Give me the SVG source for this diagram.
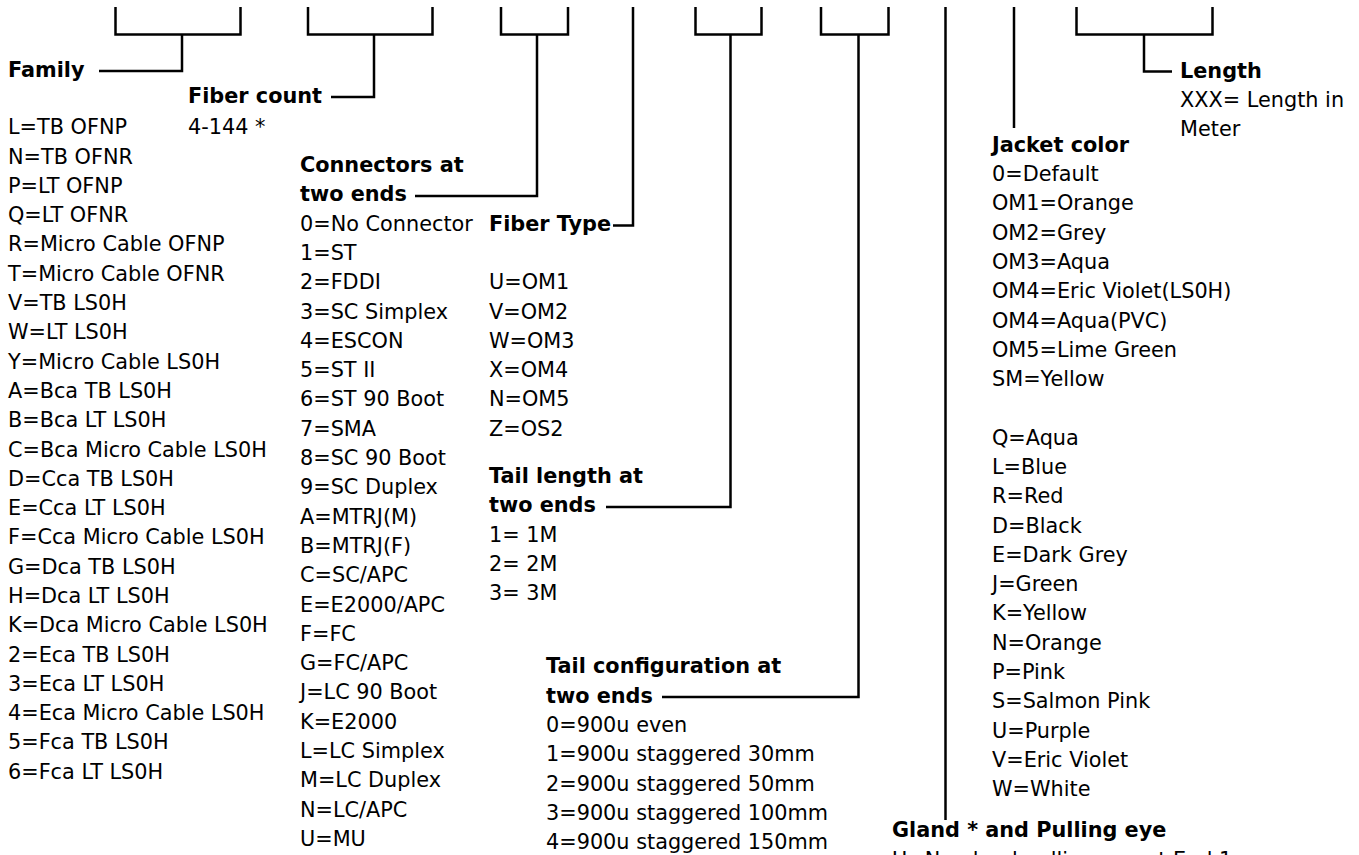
<svg xmlns="http://www.w3.org/2000/svg" width="1359" height="855" viewBox="0 0 1359 855">
<style>
text{font-family:"DejaVu Sans","Liberation Sans",sans-serif;font-size:20.8px;fill:#000}
.b{font-weight:bold}
.ln{stroke:#000;stroke-width:2.5;fill:none;stroke-linecap:butt;stroke-linejoin:miter}
</style>
<rect width="1359" height="855" fill="#fff"/>
<g id="connectors">
<path class="ln" d="M115.5 7V34.5H240.5V7M182 34.5V71H99"/>
<path class="ln" d="M308 7V34.5H432.5V7M374 34.5V97H331"/>
<path class="ln" d="M501 7V34.5H568V7M537 34.5V196H415"/>
<path class="ln" d="M633 7V225.5H613"/>
<path class="ln" d="M695.5 7V34.5H761.5V7M730.5 34.5V507H606"/>
<path class="ln" d="M821 7V34.5H888.5V7M858.5 34.5V697H662"/>
<path class="ln" d="M945.5 7V820"/>
<path class="ln" d="M1014 7V128"/>
<path class="ln" d="M1076.5 7V34.5H1212.5V7M1144 34.5V71.5H1172"/>
</g>
<g id="family">
<text class="b" x="8" y="76.5">Family</text>
<text x="8" y="134.2">
<tspan x="8">L=TB OFNP</tspan>
<tspan x="8" dy="29.3">N=TB OFNR</tspan>
<tspan x="8" dy="29.3">P=LT OFNP</tspan>
<tspan x="8" dy="29.3">Q=LT OFNR</tspan>
<tspan x="8" dy="29.3">R=Micro Cable OFNP</tspan>
<tspan x="8" dy="29.3">T=Micro Cable OFNR</tspan>
<tspan x="8" dy="29.3">V=TB LS0H</tspan>
<tspan x="8" dy="29.3">W=LT LS0H</tspan>
<tspan x="8" dy="29.3">Y=Micro Cable LS0H</tspan>
<tspan x="8" dy="29.3">A=Bca TB LS0H</tspan>
<tspan x="8" dy="29.3">B=Bca LT LS0H</tspan>
<tspan x="8" dy="29.3">C=Bca Micro Cable LS0H</tspan>
<tspan x="8" dy="29.3">D=Cca TB LS0H</tspan>
<tspan x="8" dy="29.3">E=Cca LT LS0H</tspan>
<tspan x="8" dy="29.3">F=Cca Micro Cable LS0H</tspan>
<tspan x="8" dy="29.3">G=Dca TB LS0H</tspan>
<tspan x="8" dy="29.3">H=Dca LT LS0H</tspan>
<tspan x="8" dy="29.3">K=Dca Micro Cable LS0H</tspan>
<tspan x="8" dy="29.3">2=Eca TB LS0H</tspan>
<tspan x="8" dy="29.3">3=Eca LT LS0H</tspan>
<tspan x="8" dy="29.3">4=Eca Micro Cable LS0H</tspan>
<tspan x="8" dy="29.3">5=Fca TB LS0H</tspan>
<tspan x="8" dy="29.3">6=Fca LT LS0H</tspan>
</text>
</g>
<g id="fiber-count">
<text class="b" x="188" y="102.5">Fiber count</text>
<text x="188" y="134.2">4-144 *</text>
</g>
<g id="connectors-at-two-ends">
<text class="b" x="300" y="172"><tspan x="300">Connectors at</tspan><tspan x="300" dy="29.3">two ends</tspan></text>
<text x="300" y="230.6">
<tspan x="300">0=No Connector</tspan>
<tspan x="300" dy="29.3">1=ST</tspan>
<tspan x="300" dy="29.3">2=FDDI</tspan>
<tspan x="300" dy="29.3">3=SC Simplex</tspan>
<tspan x="300" dy="29.3">4=ESCON</tspan>
<tspan x="300" dy="29.3">5=ST II</tspan>
<tspan x="300" dy="29.3">6=ST 90 Boot</tspan>
<tspan x="300" dy="29.3">7=SMA</tspan>
<tspan x="300" dy="29.3">8=SC 90 Boot</tspan>
<tspan x="300" dy="29.3">9=SC Duplex</tspan>
<tspan x="300" dy="29.3">A=MTRJ(M)</tspan>
<tspan x="300" dy="29.3">B=MTRJ(F)</tspan>
<tspan x="300" dy="29.3">C=SC/APC</tspan>
<tspan x="300" dy="29.3">E=E2000/APC</tspan>
<tspan x="300" dy="29.3">F=FC</tspan>
<tspan x="300" dy="29.3">G=FC/APC</tspan>
<tspan x="300" dy="29.3">J=LC 90 Boot</tspan>
<tspan x="300" dy="29.3">K=E2000</tspan>
<tspan x="300" dy="29.3">L=LC Simplex</tspan>
<tspan x="300" dy="29.3">M=LC Duplex</tspan>
<tspan x="300" dy="29.3">N=LC/APC</tspan>
<tspan x="300" dy="29.3">U=MU</tspan>
</text>
</g>
<g id="fiber-type">
<text class="b" x="489" y="230.6">Fiber Type</text>
<text x="489" y="289.2">
<tspan x="489">U=OM1</tspan>
<tspan x="489" dy="29.3">V=OM2</tspan>
<tspan x="489" dy="29.3">W=OM3</tspan>
<tspan x="489" dy="29.3">X=OM4</tspan>
<tspan x="489" dy="29.3">N=OM5</tspan>
<tspan x="489" dy="29.3">Z=OS2</tspan>
</text>
</g>
<g id="tail-length">
<text class="b" x="489" y="483"><tspan x="489">Tail length at</tspan><tspan x="489" dy="29.3">two ends</tspan></text>
<text x="489" y="541.6">
<tspan x="489">1= 1M</tspan>
<tspan x="489" dy="29.3">2= 2M</tspan>
<tspan x="489" dy="29.3">3= 3M</tspan>
</text>
</g>
<g id="tail-configuration">
<text class="b" x="546" y="673.3"><tspan x="546">Tail configuration at</tspan><tspan x="546" dy="29.3">two ends</tspan></text>
<text x="546" y="731.9">
<tspan x="546">0=900u even</tspan>
<tspan x="546" dy="29.3">1=900u staggered 30mm</tspan>
<tspan x="546" dy="29.3">2=900u staggered 50mm</tspan>
<tspan x="546" dy="29.3">3=900u staggered 100mm</tspan>
<tspan x="546" dy="29.3">4=900u staggered 150mm</tspan>
</text>
</g>
<g id="gland">
<text class="b" x="892" y="837.3">Gland * and Pulling eye</text>
<text x="892" y="866.6">U=No gland pulling eye at End 1</text>
</g>
<g id="jacket-color">
<text class="b" x="992" y="151.7">Jacket color</text>
<text x="992" y="181">
<tspan x="992">0=Default</tspan>
<tspan x="992" dy="29.3">OM1=Orange</tspan>
<tspan x="992" dy="29.3">OM2=Grey</tspan>
<tspan x="992" dy="29.3">OM3=Aqua</tspan>
<tspan x="992" dy="29.3">OM4=Eric Violet(LS0H)</tspan>
<tspan x="992" dy="29.3">OM4=Aqua(PVC)</tspan>
<tspan x="992" dy="29.3">OM5=Lime Green</tspan>
<tspan x="992" dy="29.3">SM=Yellow</tspan>
<tspan x="992" dy="58.6">Q=Aqua</tspan>
<tspan x="992" dy="29.3">L=Blue</tspan>
<tspan x="992" dy="29.3">R=Red</tspan>
<tspan x="992" dy="29.3">D=Black</tspan>
<tspan x="992" dy="29.3">E=Dark Grey</tspan>
<tspan x="992" dy="29.3">J=Green</tspan>
<tspan x="992" dy="29.3">K=Yellow</tspan>
<tspan x="992" dy="29.3">N=Orange</tspan>
<tspan x="992" dy="29.3">P=Pink</tspan>
<tspan x="992" dy="29.3">S=Salmon Pink</tspan>
<tspan x="992" dy="29.3">U=Purple</tspan>
<tspan x="992" dy="29.3">V=Eric Violet</tspan>
<tspan x="992" dy="29.3">W=White</tspan>
</text>
</g>
<g id="length">
<text class="b" x="1180" y="77.5">Length</text>
<text x="1180" y="106.5"><tspan x="1180">XXX= Length in</tspan><tspan x="1180" dy="29.3">Meter</tspan></text>
</g>
</svg>
